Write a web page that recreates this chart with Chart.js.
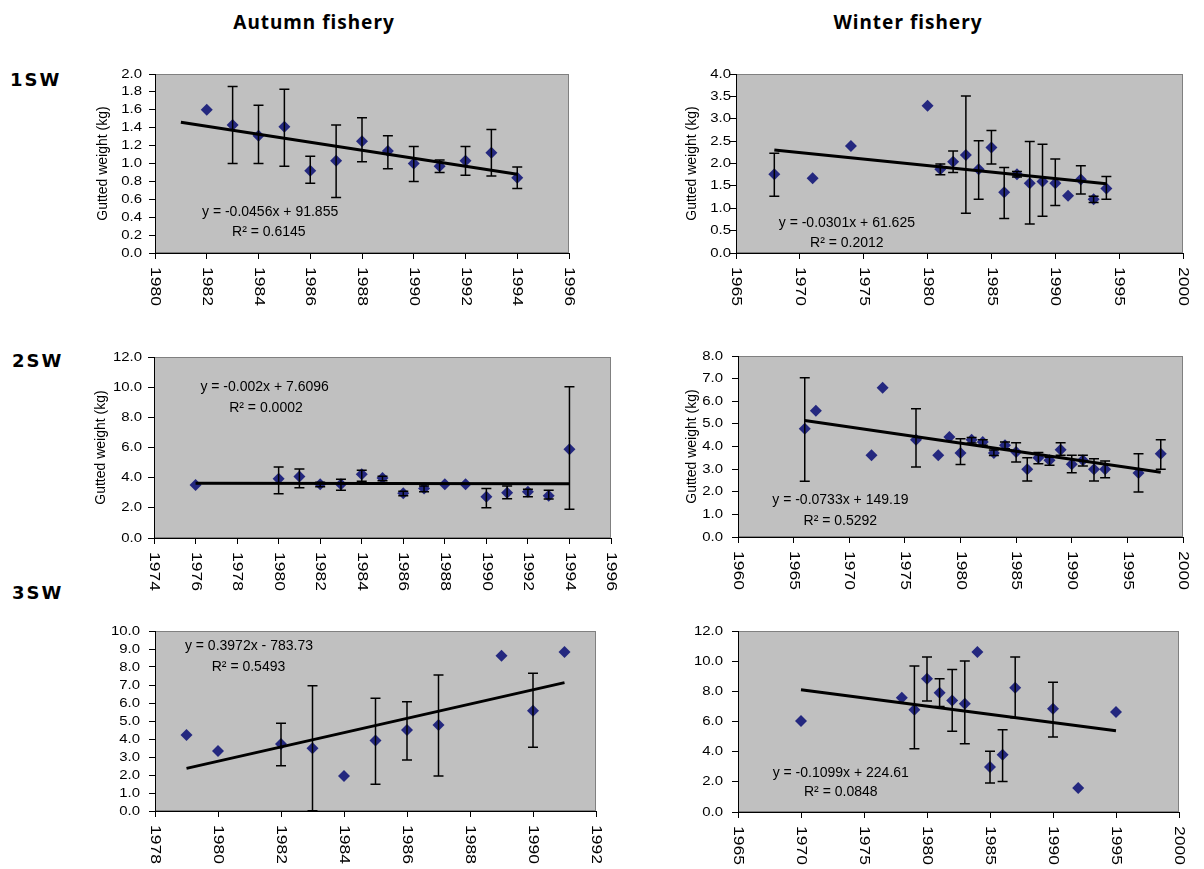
<!DOCTYPE html>
<html>
<head>
<meta charset="utf-8">
<script src="https://cdn.jsdelivr.net/npm/chart.js@4/dist/chart.umd.min.js"></script>
<style>
  body { margin: 0; background: #fff; width: 1204px; height: 869px; position: relative; overflow: hidden; }
  .head { position: absolute; width: 240px; text-align: center; font: bold 19px "Noto Sans", sans-serif; letter-spacing: 1px; line-height: 24px; }
  .row { position: absolute; font: bold 18px "DejaVu Sans", sans-serif; letter-spacing: 2px; line-height: 24px; }
  canvas { position: absolute; }
</style>
</head>
<body>
<div class="head" style="left:194px; top:10px;">Autumn fishery</div>
<div class="head" style="left:788px; top:10px;">Winter fishery</div>
<div class="row" style="left:10px; top:68px;">1SW</div>
<div class="row" style="left:12px; top:349px;">2SW</div>
<div class="row" style="left:12px; top:581px;">3SW</div>

<canvas id="a1"></canvas>
<canvas id="w1"></canvas>
<canvas id="a2"></canvas>
<canvas id="w2"></canvas>
<canvas id="a3"></canvas>
<canvas id="w3"></canvas>

<script>
// ---- 1SW, autumn fishery
const a1Years  = [1982, 1983, 1984, 1985, 1986, 1987, 1988, 1989, 1990, 1991, 1992, 1993, 1994];
const a1Weight = [1.60, 1.43, 1.31, 1.41, 0.92, 1.03, 1.25, 1.14, 1.00, 0.97, 1.03, 1.12, 0.84];
const a1Low    = [null, 1.00, 1.00, 0.97, 0.78, 0.62, 1.02, 0.94, 0.80, 0.90, 0.87, 0.86, 0.72];
const a1High   = [null, 1.86, 1.65, 1.83, 1.08, 1.43, 1.51, 1.31, 1.19, 1.04, 1.19, 1.38, 0.96];
const a1TrendYears = [1981, 1994];
const a1Trend      = [1.46, 0.88];
const a1XTicks = [1980, 1982, 1984, 1986, 1988, 1990, 1992, 1994, 1996];
const a1YTicks = [0, 0.2, 0.4, 0.6, 0.8, 1.0, 1.2, 1.4, 1.6, 1.8, 2.0];
const a1Equation = 'y = -0.0456x + 91.855';
const a1R2 = 'R² = 0.6145';

// ---- 1SW, winter fishery
const w1Years  = [1968, 1971, 1974, 1980, 1981, 1982, 1983, 1984, 1985, 1986, 1987, 1988, 1989, 1990, 1991, 1992, 1993, 1994];
const w1Weight = [1.76, 1.67, 2.39, 3.29, 1.87, 2.04, 2.19, 1.87, 2.36, 1.36, 1.76, 1.56, 1.60, 1.56, 1.28, 1.64, 1.20, 1.44];
const w1Low    = [1.27, null, null, null, 1.75, 1.80, 0.89, 1.20, 1.99, 0.77, 1.70, 0.65, 0.82, 1.06, null, 1.32, 1.13, 1.20];
const w1High   = [2.23, null, null, null, 1.99, 2.28, 3.51, 2.51, 2.74, 1.91, 1.82, 2.49, 2.43, 2.10, null, 1.95, 1.27, 1.71];
const w1TrendYears = [1968, 1994];
const w1Trend      = [2.30, 1.55];
const w1XTicks = [1965, 1970, 1975, 1980, 1985, 1990, 1995, 2000];
const w1YTicks = [0, 0.5, 1.0, 1.5, 2.0, 2.5, 3.0, 3.5, 4.0];
const w1Equation = 'y = -0.0301x + 61.625';
const w1R2 = 'R² = 0.2012';

// ---- 2SW, autumn fishery
const a2Years  = [1976, 1980, 1981, 1982, 1983, 1984, 1985, 1986, 1987, 1988, 1989, 1990, 1991, 1992, 1993, 1994];
const a2Weight = [3.51, 3.93, 4.07, 3.56, 3.56, 4.22, 3.98, 2.96, 3.29, 3.56, 3.56, 2.73, 3.00, 3.07, 2.80, 5.89];
const a2Low    = [null, 2.93, 3.33, 3.40, 3.16, 3.76, 3.80, 2.80, 3.06, null, null, 2.00, 2.60, 2.73, 2.58, 1.91];
const a2High   = [null, 4.71, 4.58, 3.70, 3.89, 4.49, 4.10, 3.10, 3.44, null, null, 3.29, 3.44, 3.24, 3.16, 10.02];
const a2TrendYears = [1976, 1994];
const a2Trend      = [3.63, 3.60];
const a2XTicks = [1974, 1976, 1978, 1980, 1982, 1984, 1986, 1988, 1990, 1992, 1994, 1996];
const a2YTicks = [0, 2, 4, 6, 8, 10, 12];
const a2Equation = 'y = -0.002x + 7.6096';
const a2R2 = 'R² = 0.0002';

// ---- 2SW, winter fishery
const w2Years  = [1966, 1967, 1972, 1973, 1976, 1978, 1979, 1980, 1981, 1982, 1983, 1984, 1985, 1986, 1987, 1988, 1989, 1990, 1991, 1992, 1993, 1996, 1998];
const w2Weight = [4.79, 5.58, 3.61, 6.60, 4.30, 3.61, 4.42, 3.71, 4.30, 4.20, 3.71, 4.05, 3.76, 2.99, 3.50, 3.39, 3.86, 3.21, 3.39, 2.99, 2.99, 2.83, 3.68];
const w2Low    = [2.46, null, null, null, 3.09, null, null, 3.20, 4.15, 4.05, 3.60, 3.90, 3.31, 2.47, 3.24, 3.17, 3.61, 2.84, 3.14, 2.47, 2.62, 1.99, 2.99];
const w2High   = [7.04, null, null, null, 5.67, null, null, 4.34, 4.40, 4.30, 3.85, 4.20, 4.17, 3.50, 3.73, 3.53, 4.17, 3.61, 3.61, 3.46, 3.36, 3.68, 4.30];
const w2TrendYears = [1966, 1998];
const w2Trend      = [5.15, 2.86];
const w2XTicks = [1960, 1965, 1970, 1975, 1980, 1985, 1990, 1995, 2000];
const w2YTicks = [0, 1, 2, 3, 4, 5, 6, 7, 8];
const w2Equation = 'y = -0.0733x + 149.19';
const w2R2 = 'R² = 0.5292';

// ---- 3SW, autumn fishery
const a3Years  = [1979, 1980, 1982, 1983, 1984, 1985, 1986, 1987, 1989, 1990, 1991];
const a3Weight = [4.22, 3.33, 3.72, 3.48, 1.94, 3.91, 4.50, 4.78, 8.63, 5.57, 8.83];
const a3Low    = [null, null, 2.52, 0.02, null, 1.48, 2.83, 1.94, null, 3.54, null];
const a3High   = [null, null, 4.87, 6.96, null, 6.26, 6.07, 7.56, null, 7.65, null];
const a3TrendYears = [1979, 1991];
const a3Trend      = [2.37, 7.13];
const a3XTicks = [1978, 1980, 1982, 1984, 1986, 1988, 1990, 1992];
const a3YTicks = [0, 1, 2, 3, 4, 5, 6, 7, 8, 9, 10];
const a3Equation = 'y = 0.3972x - 783.73';
const a3R2 = 'R² = 0.5493';

// ---- 3SW, winter fishery
const w3Years  = [1970, 1978, 1979, 1980, 1981, 1982, 1983, 1984, 1985, 1986, 1987, 1990, 1992, 1995];
const w3Weight = [6.03, 7.58, 6.78, 8.84, 7.91, 7.40, 7.18, 10.61, 2.98, 3.80, 8.24, 6.85, 1.59, 6.63];
const w3Low    = [null, null, 4.20, 7.36, 7.00, 5.35, 4.53, null, 1.92, 2.03, 6.25, 4.97, null, null];
const w3High   = [null, null, 9.68, 10.28, 8.84, 9.44, 10.01, null, 4.02, 5.46, 10.28, 8.60, null, null];
const w3TrendYears = [1970, 1995];
const w3Trend      = [8.11, 5.38];
const w3XTicks = [1965, 1970, 1975, 1980, 1985, 1990, 1995, 2000];
const w3YTicks = [0, 2, 4, 6, 8, 10, 12];
const w3Equation = 'y = -0.1099x + 224.61';
const w3R2 = 'R² = 0.0848';

const NAVY = '#24287f';
const PLOT_BG = '#c0c0c0';
const FONT = '"Liberation Sans", Arial, sans-serif';
const Y_TITLE = 'Gutted weight (kg)';

// canvas box + plot area (page pixels), label placement
const panels = [
  { id: 'a1', years: a1Years, weight: a1Weight, low: a1Low, high: a1High, tx: a1TrendYears, ty: a1Trend,
    xTicks: a1XTicks, yTicks: a1YTicks, eq: a1Equation, r2: a1R2,
    box: [60, 60, 560, 260], plot: [155, 74, 569, 253], labelGap: 13, titleGap: 52, yTitle: true, eqPos: [0.278, 0.771], r2Pos: [0.275, 0.883] },
  { id: 'w1', years: w1Years, weight: w1Weight, low: w1Low, high: w1High, tx: w1TrendYears, ty: w1Trend,
    xTicks: w1XTicks, yTicks: w1YTicks, eq: w1Equation, r2: w1R2,
    box: [640, 60, 560, 260], plot: [736, 74, 1183, 253], labelGap: 5, titleGap: 44, yTitle: true, eqPos: [0.248, 0.832], r2Pos: [0.248, 0.944] },
  { id: 'a2', years: a2Years, weight: a2Weight, low: a2Low, high: a2High, tx: a2TrendYears, ty: a2Trend,
    xTicks: a2XTicks, yTicks: a2YTicks, eq: a2Equation, r2: a2R2,
    box: [60, 330, 560, 270], plot: [154, 357, 611, 538], labelGap: 12, titleGap: 53, yTitle: true, eqPos: [0.242, 0.169], r2Pos: [0.245, 0.285] },
  { id: 'w2', years: w2Years, weight: w2Weight, low: w2Low, high: w2High, tx: w2TrendYears, ty: w2Trend,
    xTicks: w2XTicks, yTicks: w2YTicks, eq: w2Equation, r2: w2R2,
    box: [640, 330, 560, 270], plot: [738, 356, 1183, 537], labelGap: 15, titleGap: 46, yTitle: true, eqPos: [0.23, 0.797], r2Pos: [0.23, 0.913] },
  { id: 'a3', years: a3Years, weight: a3Weight, low: a3Low, high: a3High, tx: a3TrendYears, ty: a3Trend,
    xTicks: a3XTicks, yTicks: a3YTicks, eq: a3Equation, r2: a3R2,
    box: [60, 610, 560, 259], plot: [155, 631, 596, 811], labelGap: 15, titleGap: 52, yTitle: false, eqPos: [0.213, 0.083], r2Pos: [0.212, 0.2] },
  { id: 'w3', years: w3Years, weight: w3Weight, low: w3Low, high: w3High, tx: w3TrendYears, ty: w3Trend,
    xTicks: w3XTicks, yTicks: w3YTicks, eq: w3Equation, r2: w3R2,
    box: [640, 610, 560, 259], plot: [738, 631, 1179, 812], labelGap: 15, titleGap: 46, yTitle: false, eqPos: [0.233, 0.786], r2Pos: [0.233, 0.891] }
];
const panelById = {};
panels.forEach(p => { panelById[p.id] = p; });

// Excel-style plot: grey area, error bars, rotated tick labels, equation text
const excelLook = {
  id: 'excelLook',
  beforeDraw(chart) {
    const { ctx, chartArea: a } = chart;
    ctx.save();
    ctx.fillStyle = PLOT_BG;
    ctx.fillRect(a.left, a.top, a.right - a.left, a.bottom - a.top);
    ctx.strokeStyle = '#808080';
    ctx.lineWidth = 1;
    ctx.strokeRect(a.left + 0.5, a.top + 0.5, a.right - a.left - 1, a.bottom - a.top - 1);
    ctx.restore();
  },
  afterDatasetsDraw(chart) {
    const p = panelById[chart.canvas.id];
    const xs = chart.scales.x, ys = chart.scales.y, ctx = chart.ctx;
    ctx.save();
    ctx.strokeStyle = '#000';
    ctx.lineWidth = 1.5;
    p.years.forEach((yr, i) => {
      if (p.low[i] == null) return;
      const x = xs.getPixelForValue(yr);
      const y1 = ys.getPixelForValue(p.low[i]);
      const y2 = ys.getPixelForValue(p.high[i]);
      ctx.beginPath();
      ctx.moveTo(x, y1); ctx.lineTo(x, y2);
      ctx.moveTo(x - 5, y1); ctx.lineTo(x + 5, y1);
      ctx.moveTo(x - 5, y2); ctx.lineTo(x + 5, y2);
      ctx.stroke();
    });
    ctx.restore();
  },
  afterDraw(chart) {
    const p = panelById[chart.canvas.id];
    const { ctx, chartArea: a } = chart;
    const xs = chart.scales.x, ys = chart.scales.y;
    ctx.save();
    ctx.fillStyle = '#000';

    ctx.font = '14px ' + FONT;
    ctx.textAlign = 'left';
    ctx.textBaseline = 'middle';
    xs.ticks.forEach(t => {
      ctx.save();
      ctx.translate(xs.getPixelForValue(t.value), a.bottom + 14);
      ctx.rotate(Math.PI / 2);
      ctx.scale(1.25, 1);
      ctx.fillText(String(t.value), 0, 0);
      ctx.restore();
    });

    ctx.font = '13px ' + FONT;
    ctx.textAlign = 'right';
    ys.ticks.forEach(t => {
      ctx.save();
      ctx.translate(a.left - p.labelGap, ys.getPixelForValue(t.value));
      ctx.scale(1.15, 1);
      ctx.fillText(t.value.toFixed(1), 0, 0);
      ctx.restore();
    });

    if (p.yTitle) {
      ctx.save();
      ctx.font = '14px ' + FONT;
      ctx.textAlign = 'center';
      ctx.translate(a.left - p.titleGap, (a.top + a.bottom) / 2);
      ctx.rotate(-Math.PI / 2);
      ctx.fillText(Y_TITLE, 0, 0);
      ctx.restore();
    }

    const w = a.right - a.left, h = a.bottom - a.top;
    ctx.font = '14px ' + FONT;
    ctx.textAlign = 'center';
    ctx.fillText(p.eq, a.left + p.eqPos[0] * w, a.top + p.eqPos[1] * h);
    ctx.fillText(p.r2, a.left + p.r2Pos[0] * w, a.top + p.r2Pos[1] * h);
    ctx.restore();
  }
};

panels.forEach(p => {
  const cv = document.getElementById(p.id);
  const [bx, by, bw, bh] = p.box;
  const [pl, pt, pr, pb] = p.plot;
  cv.width = bw; cv.height = bh;
  cv.style.left = bx + 'px'; cv.style.top = by + 'px';
  cv.style.width = bw + 'px'; cv.style.height = bh + 'px';

  new Chart(cv, {
    type: 'scatter',
    data: {
      datasets: [{
        type: 'line',
        data: p.tx.map((x, i) => ({ x: x, y: p.ty[i] })),
        borderColor: '#000',
        borderWidth: 3,
        pointRadius: 0,
        fill: false,
        order: 0
      }, {
        data: p.years.map((x, i) => ({ x: x, y: p.weight[i] })),
        pointStyle: 'rectRot',
        pointRadius: 6,
        backgroundColor: NAVY,
        borderColor: NAVY,
        borderWidth: 0,
        order: 1
      }]
    },
    options: {
      responsive: false,
      animation: false,
      layout: { padding: { top: pt - by, right: bx + bw - pr, left: 0, bottom: 0 } },
      plugins: { legend: { display: false }, tooltip: { enabled: false } },
      scales: {
        x: {
          type: 'linear',
          min: p.xTicks[0],
          max: p.xTicks[p.xTicks.length - 1],
          afterBuildTicks: s => { s.ticks = p.xTicks.map(v => ({ value: v })); },
          afterFit: s => { s.height = by + bh - pb; },
          ticks: { display: false },
          grid: { drawOnChartArea: false, drawTicks: true, tickLength: 6, color: '#000' },
          border: { color: '#000', width: 1 }
        },
        y: {
          type: 'linear',
          min: p.yTicks[0],
          max: p.yTicks[p.yTicks.length - 1],
          afterBuildTicks: s => { s.ticks = p.yTicks.map(v => ({ value: v })); },
          afterFit: s => { s.width = pl - bx; },
          ticks: { display: false },
          grid: { drawOnChartArea: false, drawTicks: true, tickLength: 6, color: '#000' },
          border: { color: '#000', width: 1 }
        }
      }
    },
    plugins: [excelLook]
  });
});
</script>
</body>
</html>
